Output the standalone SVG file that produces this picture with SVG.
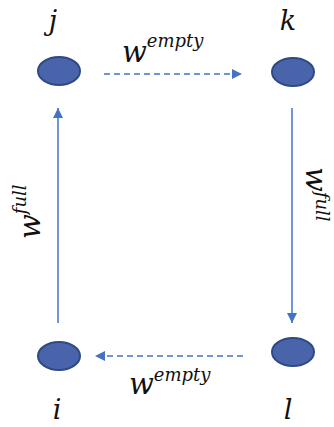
<svg xmlns="http://www.w3.org/2000/svg" width="334" height="427" viewBox="0 0 334 427">
<style>
.node{fill:#4A64AC;stroke:#2F4A80;stroke-width:2}
.lbl{font-family:"DejaVu Serif","Liberation Serif",serif;font-style:italic;fill:#111}
.w{font-size:29px}
.sup{font-size:18px}
.edge{stroke:#4472C4;stroke-width:1.5;fill:none}
.dash{stroke-dasharray:6,4}
</style>
<defs>
<marker id="ah" viewBox="0 0 10 10" refX="10" refY="5" markerWidth="10" markerHeight="10" markerUnits="userSpaceOnUse" orient="auto">
<path d="M0,0 L10,5 L0,10 Z" fill="#4472C4"/>
</marker>
</defs>
<rect width="334" height="427" fill="#fff"/>
<g id="connectors">
<line class="edge dash" x1="104" y1="74" x2="242" y2="74" marker-end="url(#ah)"/>
<line class="edge" x1="292" y1="108" x2="292" y2="323" marker-end="url(#ah)"/>
<line class="edge dash" x1="243" y1="356" x2="95" y2="356" marker-end="url(#ah)"/>
<line class="edge" x1="58" y1="323" x2="58" y2="108" marker-end="url(#ah)"/>
<text class="lbl" x="122" y="62"><tspan class="w">w</tspan><tspan class="sup" dy="-15">empty</tspan></text>
<text class="lbl" x="129" y="394"><tspan class="w">w</tspan><tspan class="sup" dy="-13">empty</tspan></text>
<text class="lbl" transform="translate(40,239) rotate(-90)"><tspan class="w">w</tspan><tspan class="sup" dy="-14">full</tspan></text>
<text class="lbl" transform="translate(306,167) rotate(90)"><tspan class="w">w</tspan><tspan class="sup" dy="-10" font-size="17">full</tspan></text>
</g>
<g id="node-j">
<ellipse class="node" cx="59" cy="71" rx="21" ry="14"/>
<text class="lbl" x="53" y="30" font-size="27" text-anchor="middle">j</text>
</g>
<g id="node-k">
<ellipse class="node" cx="293" cy="72" rx="21" ry="14"/>
<text class="lbl" x="288" y="30" font-size="27" text-anchor="middle">k</text>
</g>
<g id="node-i">
<ellipse class="node" cx="59" cy="356" rx="21" ry="14"/>
<text class="lbl" x="57" y="419" font-size="27" text-anchor="middle">i</text>
</g>
<g id="node-l">
<ellipse class="node" cx="293" cy="352" rx="21" ry="14"/>
<text class="lbl" x="288" y="419" font-size="27" text-anchor="middle">l</text>
</g>
</svg>
